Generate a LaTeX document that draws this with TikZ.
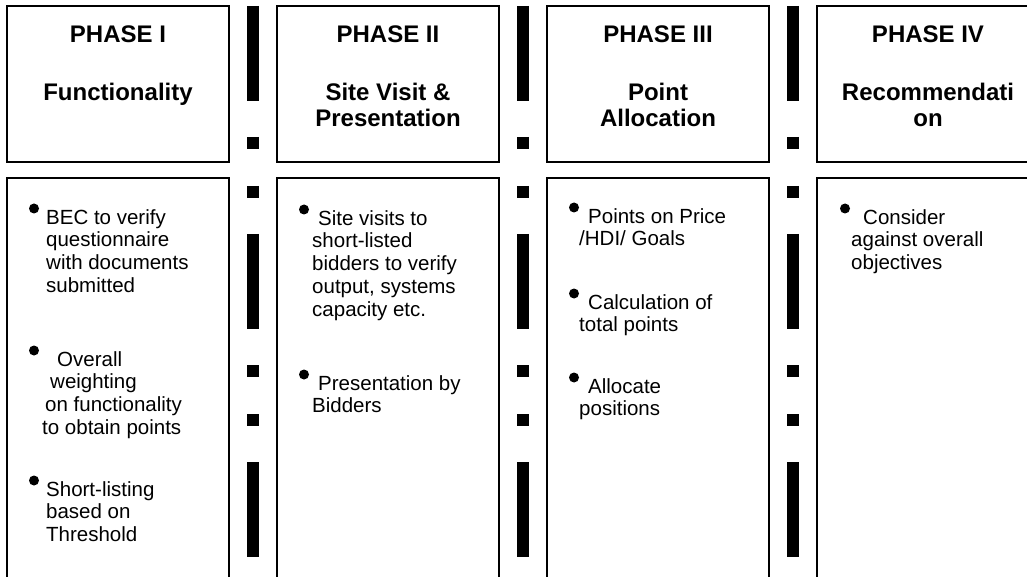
\documentclass[tikz,border=0pt]{standalone}
\usepackage{fontspec}
\setmainfont{Liberation Sans}
\usetikzlibrary{positioning}

\begin{document}
\begin{tikzpicture}[x=1pt, y=-1pt,
  box/.style={draw, line width=1.8pt, outer sep=0pt, inner sep=0pt, minimum width=222pt},
  headbox/.style={box, minimum height=156pt},
  bodybox/.style={box, minimum height=440pt},
  headtext/.style={font=\fontsize{24}{27}\selectfont\bfseries, inner sep=0pt},
  titletext/.style={font=\fontsize{24}{26}\selectfont\bfseries, align=center, inner sep=0pt},
  itemtext/.style={font=\fontsize{20.5}{22.8}\selectfont, align=left, inner sep=0pt},
  phasesep/.style={line width=12pt, dash pattern=on 95pt off 36pt on 12pt off 37pt on 12pt off 36pt}]
\useasboundingbox (0,0) rectangle (1027,577);
\clip (0,0) rectangle (1027,577);

% phase headers
\node[headbox, anchor=north west] (h1) at (7,6) {};
\node[headbox, right=48pt of h1] (h2) {};
\node[headbox, right=48pt of h2] (h3) {};
\node[headbox, right=48pt of h3] (h4) {};
\node[headtext, below=19.5pt of h1.north] (p1) {PHASE I};
\node[headtext, below=19.5pt of h2.north] (p2) {PHASE II};
\node[headtext, below=19.5pt of h3.north] (p3) {PHASE III};
\node[headtext, below=19.5pt of h4.north] (p4) {PHASE IV};
\node[titletext, below=77pt of h1.north] (n1) {Functionality};
\node[titletext, below=77pt of h2.north] (n2) {Site Visit \&\\Presentation};
\node[titletext, below=77pt of h3.north] (n3) {Point\\Allocation};
\node[titletext, below=77pt of h4.north] (n4) {Recommendati\\on};

% phase contents
\node[bodybox, below=16pt of h1] (b1) {};
\node[bodybox, below=16pt of h2] (b2) {};
\node[bodybox, below=16pt of h3] (b3) {};
\node[bodybox, below=16pt of h4] (b4) {};

\node[itemtext, below right=31pt and 39pt of b1.north west] (i11) {BEC to verify\\questionnaire\\with documents\\submitted};
\node[itemtext, below right=173pt and 35pt of b1.north west] (i12) {\hspace*{15pt}Overall\\\hspace*{8pt}weighting\\\hspace*{3pt}on functionality\\to obtain points};
\node[itemtext, below right=303pt and 39pt of b1.north west] (i13) {Short-listing\\based on\\Threshold};
\node[itemtext, below right=32pt and 35pt of b2.north west] (i21) {\hspace*{6pt}Site visits to\\short-listed\\bidders to verify\\output, systems\\capacity etc.};
\node[itemtext, below right=197pt and 35pt of b2.north west] (i22) {\hspace*{6pt}Presentation by\\Bidders};
\node[itemtext, below right=30pt and 32pt of b3.north west] (i31) {\hspace*{9pt}Points on Price\\/HDI/ Goals};
\node[itemtext, below right=116pt and 32pt of b3.north west] (i32) {\hspace*{9pt}Calculation of\\total points};
\node[itemtext, below right=200pt and 32pt of b3.north west] (i33) {\hspace*{9pt}Allocate\\positions};
\node[itemtext, below right=31pt and 34pt of b4.north west] (i41) {\hspace*{12pt}Consider\\against overall\\objectives};

% bullets
\fill ([xshift=-12pt, yshift=0.5pt]i11.north west) circle (5pt);
\fill ([xshift=-8pt, yshift=0.5pt]i12.north west) circle (5pt);
\fill ([xshift=-12pt, yshift=0.5pt]i13.north west) circle (5pt);
\fill ([xshift=-8pt, yshift=0.5pt]i21.north west) circle (5pt);
\fill ([xshift=-8pt, yshift=0.5pt]i22.north west) circle (5pt);
\fill ([xshift=-5pt, yshift=0.5pt]i31.north west) circle (5pt);
\fill ([xshift=-5pt, yshift=0.5pt]i32.north west) circle (5pt);
\fill ([xshift=-5pt, yshift=0.5pt]i33.north west) circle (5pt);
\fill ([xshift=-6pt, yshift=0.5pt]i41.north west) circle (5pt);

% separators between phases
\coordinate (s1) at ([xshift=24pt]h1.north east);
\coordinate (s1e) at ([xshift=24pt]b1.south east);
\coordinate (s2) at ([xshift=24pt]h2.north east);
\coordinate (s2e) at ([xshift=24pt]b2.south east);
\coordinate (s3) at ([xshift=24pt]h3.north east);
\coordinate (s3e) at ([xshift=24pt]b3.south east);
\draw[phasesep] (s1) -- (s1e);
\draw[phasesep] (s2) -- (s2e);
\draw[phasesep] (s3) -- (s3e);
\end{tikzpicture}
\end{document}
